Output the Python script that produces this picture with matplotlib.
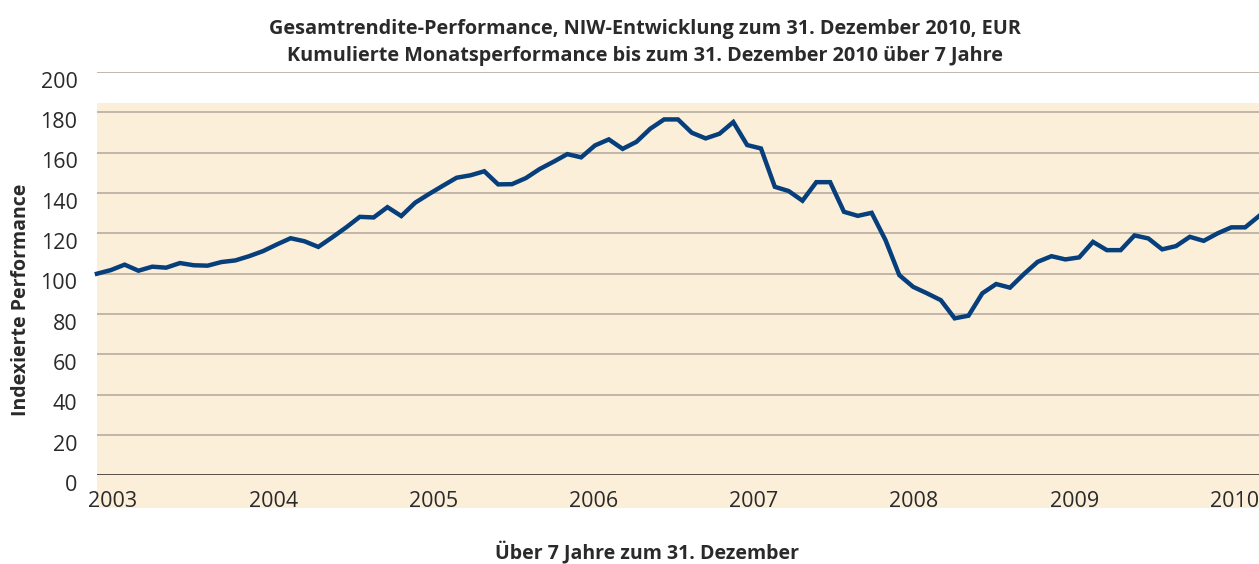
import matplotlib
matplotlib.use('Agg')
import matplotlib.pyplot as plt
from matplotlib.transforms import ScaledTranslation

plt.rcParams['font.family'] = ['Open Sans', 'DejaVu Sans']

# ── Daten: kumulierte Monatsperformance (Index, Start = 100) ────────────
performance = [
    100.0, 101.8, 104.5, 101.5, 103.5, 103.0, 105.3, 104.2, 104.0, 105.8,
    106.6, 108.7, 111.2, 114.5, 117.6, 116.1, 113.3, 118.0, 122.9, 128.2,
    127.9, 133.0, 128.6, 135.2, 139.5, 143.6, 147.6, 148.8, 150.8, 144.3,
    144.4, 147.4, 151.9, 155.5, 159.3, 157.7, 163.6, 166.6, 161.9, 165.4,
    171.9, 176.5, 176.5, 169.9, 167.1, 169.4, 175.2, 163.8, 162.1, 143.1,
    141.0, 136.2, 145.4, 145.4, 130.7, 128.7, 130.2, 116.7, 99.3, 93.5,
    90.3, 86.9, 77.9, 79.2, 90.3, 94.9, 93.1, 99.8, 105.9, 108.7,
    107.1, 108.1, 115.8, 111.7, 111.7, 119.0, 117.5, 112.1, 113.7, 118.3,
    116.3, 120.0, 123.0, 123.0, 128.6,
]
jahre = ['2003', '2004', '2005', '2006', '2007', '2008', '2009', '2010']
y_ticks = [0, 20, 40, 60, 80, 100, 120, 140, 160, 180, 200]

titel = ('Gesamtrendite-Performance, NIW-Entwicklung zum 31. Dezember 2010, EUR\n'
         'Kumulierte Monatsperformance bis zum 31. Dezember 2010 über 7 Jahre')

blau = '#073f7c'
beige = '#fcefd9'
gitter = '#bdb2a6'
text_farbe = '#2a2a2a'

fig = plt.figure(figsize=(12.59, 5.64), dpi=100)
ax = fig.add_axes([0.077, 0.157, 0.923, 0.7153])

monate = list(range(len(performance)))
# Hintergrundfläche (reicht unter die Jahreslabels)
ax.axhspan(-15.9, 184.6, color=beige, clip_on=False, zorder=0, lw=0)
for v in y_ticks[1:]:
    ax.axhline(v, color=gitter, lw=1.3, zorder=1)
ax.axhline(0, color='#4a403a', lw=2.0, zorder=2)

ax.plot(monate, performance, color=blau, lw=3.2, zorder=3,
        solid_joinstyle='miter', clip_on=False)

ax.set_xlim(0, len(performance) - 1)
ax.set_ylim(0, 200)
ax.set_yticks(y_ticks)
tick_pos = [1.16 + 11.58 * i for i in range(len(jahre))]
ax.set_xticks(tick_pos)
ax.set_xticklabels(jahre)
ax.tick_params(axis='both', length=0, labelsize=15.5, colors=text_farbe)
ax.tick_params(axis='x', pad=11)
ax.tick_params(axis='y', pad=14)
# y-Beschriftungen sitzen knapp unter den Gitterlinien
versatz = ScaledTranslation(0, -0.075, fig.dpi_scale_trans)
for lab in ax.get_yticklabels():
    lab.set_transform(lab.get_transform() + versatz)
for s in ax.spines.values():
    s.set_visible(False)
ax.set_facecolor('none')

fig.text(0.0167, 0.468, 'Indexierte Performance', rotation=90, ha='center',
         va='center', fontsize=14, fontweight='bold', color=text_farbe)
fig.text(0.512, 0.925, titel, ha='center', va='center', fontsize=14.3,
         fontweight='bold', color=text_farbe, linespacing=1.45)
fig.text(0.514, 0.022, 'Über 7 Jahre zum 31. Dezember', ha='center', va='center',
         fontsize=14, fontweight='bold', color=text_farbe)

plt.savefig('out.png', dpi=100)
